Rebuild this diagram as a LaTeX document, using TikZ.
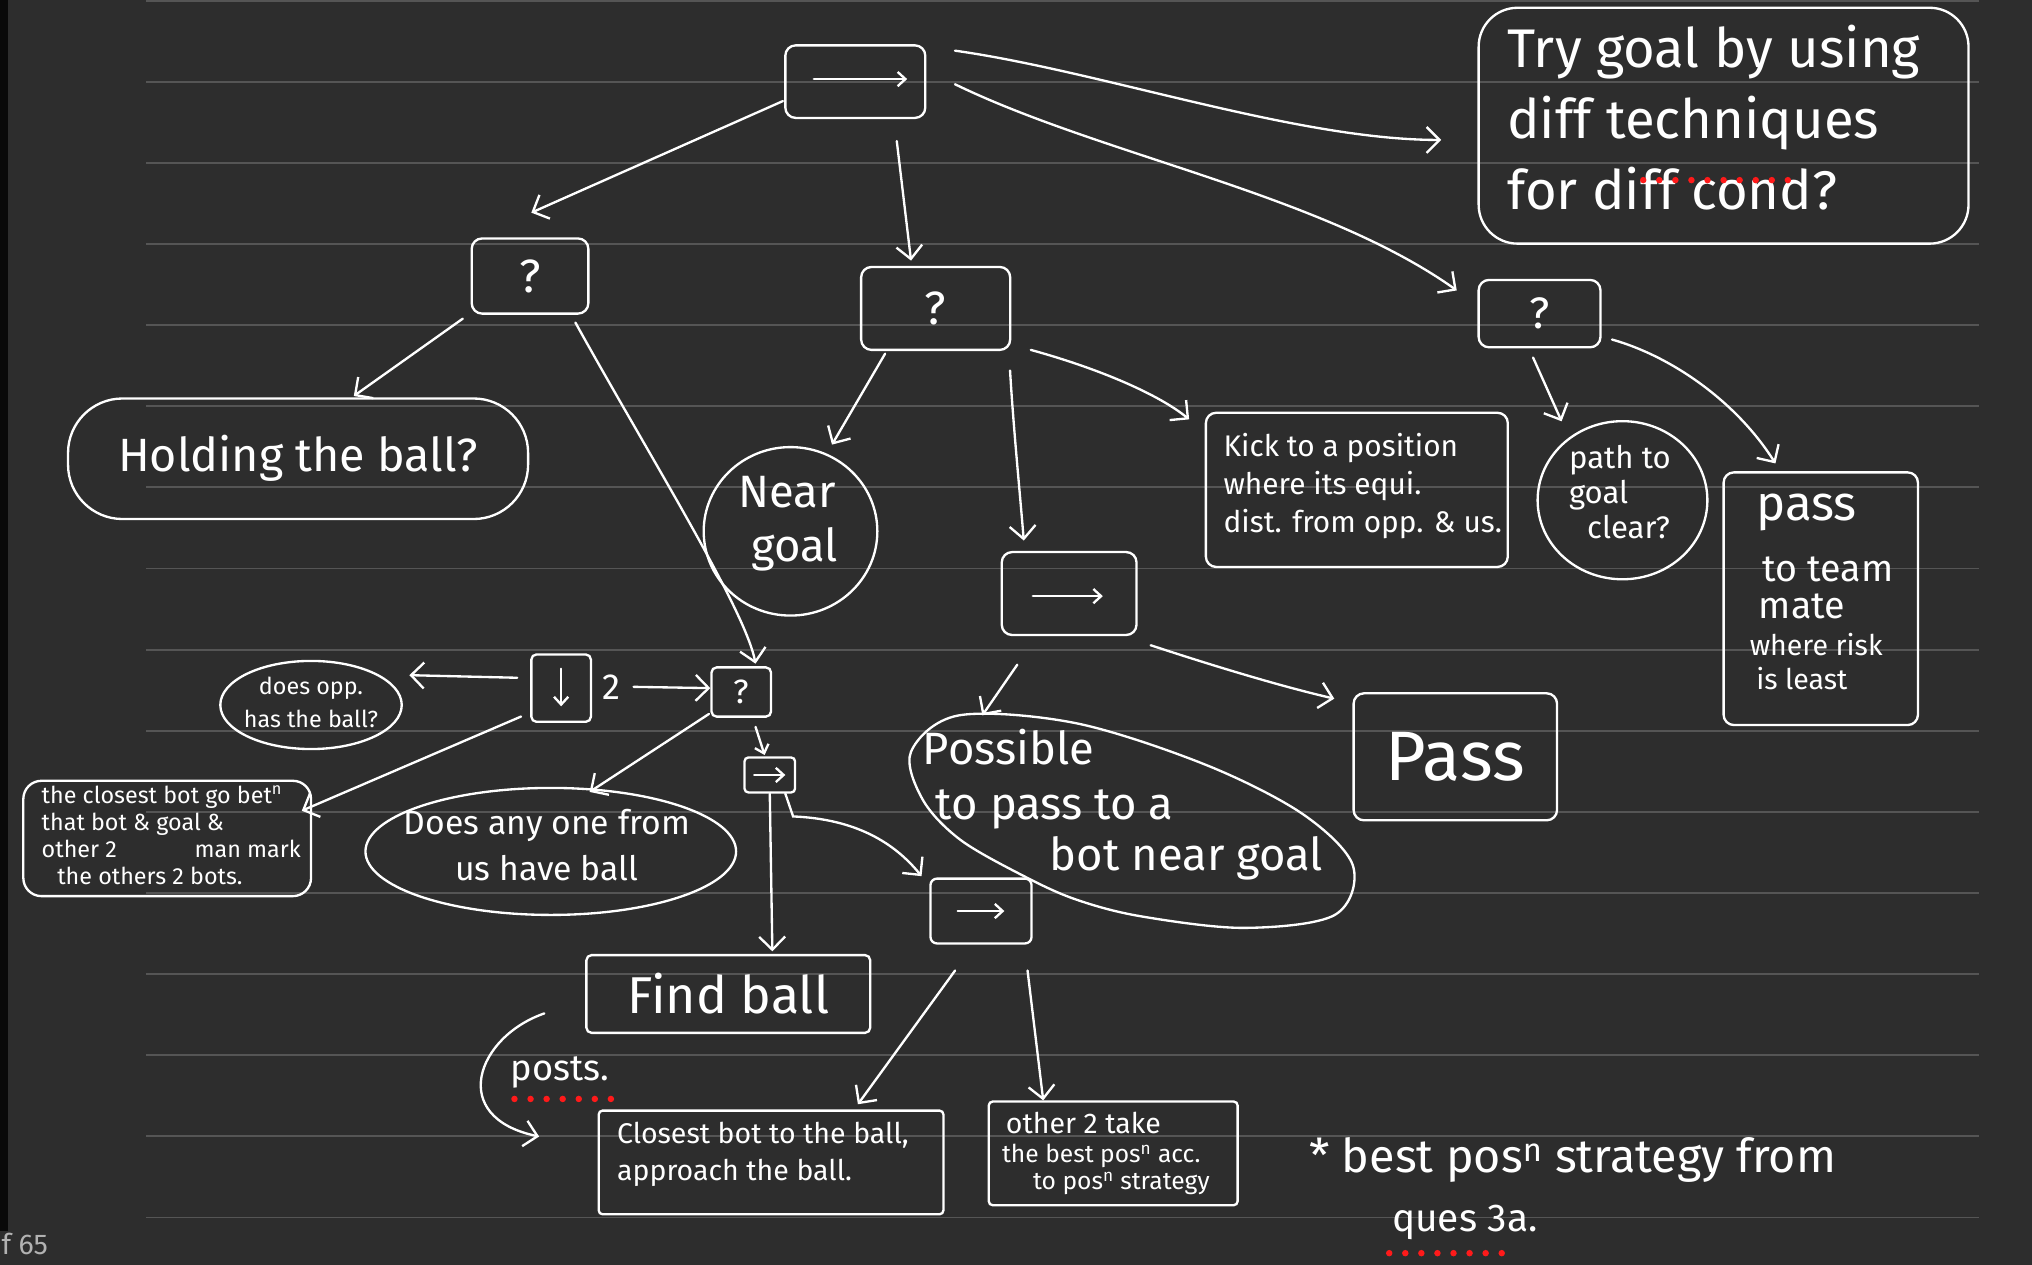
\documentclass[tikz,border=0pt]{standalone}
\usepackage{fontspec}
\setmainfont{Fira Sans}
\usetikzlibrary{arrows.meta,shapes.geometric,calc}
\definecolor{bg}{HTML}{2D2D2D}
\definecolor{rulec}{HTML}{555555}
\definecolor{dotred}{HTML}{FF1A1A}
\newcommand{\fsz}[1]{\fontsize{#1}{#1}\selectfont}
\begin{document}
\begin{tikzpicture}[x=1pt,y=-1pt,
  every node/.style={text=white, inner sep=0pt},
  ln/.style={draw=white, line width=1.8pt},
  box/.style={ln, rectangle, rounded corners=8pt},
  cond/.style={ln, ellipse},
  arr/.style={draw=white, line width=1.8pt, line cap=round, -{Straight Barb[length=10pt,width=20pt]}},
  small arr/.style={draw=white, line width=1.8pt, line cap=round, -{Straight Barb[length=6pt,width=11pt]}},
  reddots/.style={draw=dotred, line width=5pt, line cap=round, dash pattern=on 0pt off 12.4pt},
]
\useasboundingbox (0,0) rectangle (1568,976);
\clip (0,0) rectangle (1568,976);
\fill[bg] (0,0) rectangle (1568,976);
\fill[black!80!bg] (0,0) rectangle (6,950);
\foreach \k in {0,...,15} \draw[rulec, line width=1.4pt] (113,{62.6*\k+0.5}) -- (1527,{62.6*\k+0.5});
\node[anchor=base west, text=gray!60, font=\fsz{22}] (pg) at (1,968) {f 65};

% top level
\node[box, minimum width=108pt, minimum height=56pt] (root) at (660,63) {};
\draw[small arr] ($(root.center)+(-32,-2)$) -- ($(root.center)+(40,-2)$);
\node[box, minimum width=90pt, minimum height=58pt, font=\fsz{36}] (lq) at (409,213) {?};
\node[box, minimum width=115pt, minimum height=64pt, font=\fsz{36}] (mq) at (722,238) {?};
\node[box, minimum width=94pt, minimum height=52pt, font=\fsz{34}] (rq) at (1188,242) {?};
\node[box, rounded corners=30pt, minimum width=378pt, minimum height=182pt] (try) at (1330,97) {};
\node[align=left, font=\fontsize{42}{55}\selectfont, anchor=north west] (trytext) at (1163,19) {Try goal by using\\diff techniques\\for diff cond?};
\draw[reddots] (1268,139) -- (1382,139);

% second level
\node[box, rounded corners=42pt, minimum width=355pt, minimum height=93pt, font=\fsz{36}] (hold) at (230,354) {Holding the ball?};
\node[cond, minimum width=134pt, minimum height=130pt] (near) at (610,410) {};
\node[align=left, font=\fontsize{35}{42}\selectfont] (neartext) at (608,404) {Near\\\hspace*{10pt}goal};
\node[box, minimum width=233pt, minimum height=119pt] (kick) at (1047,378) {};
\node[anchor=west, align=left, font=\fontsize{23}{29}\selectfont] (kicktext) at (944,375) {Kick to a position\\where its equi.\\dist. from opp. \& us.};
\node[cond, minimum width=131pt, minimum height=122pt] (path) at (1252,386) {};
\node[align=left, font=\fontsize{24}{27}\selectfont] (pathtext) at (1250,380) {path to\\goal\\\hspace*{14pt}clear?};
\node[box, minimum width=150pt, minimum height=195pt] (passm) at (1405,462) {};
\node[anchor=base west, font=\fsz{38}] (pm1) at (1355,402) {pass};
\node[anchor=base west, font=\fsz{29}] (pm2) at (1360,449) {to team};
\node[anchor=base west, font=\fsz{29}] (pm3) at (1357,477) {mate};
\node[anchor=base west, font=\fsz{22}] (pm4) at (1350,506) {where risk};
\node[anchor=base west, font=\fsz{22}] (pm5) at (1355,532) {is least};

\node[box, minimum width=104pt, minimum height=64pt] (mseq) at (825,458) {};
\draw[small arr] ($(mseq.center)+(-28,2)$) -- ($(mseq.center)+(26,2)$);
\draw[ln] plot[smooth cycle, tension=0.55] coordinates {(703,580) (712,617) (741,648) (790,676) (830,694) (880,707) (960,716) (1030,706) (1044,668) (1005,628) (930,590) (830,558) (740,552)};
\coordinate (blobtop) at (758,552);
\node[anchor=base west, font=\fsz{35}] (pos1) at (712,590) {Possible};
\node[anchor=base west, font=\fsz{35}] (pos2) at (722,632) {to pass to a};
\node[anchor=base west, font=\fsz{35}] (pos3) at (810,672) {bot near goal};
\node[box, minimum width=157pt, minimum height=98pt, font=\fsz{54}] (pass) at (1123,584) {Pass};

% left subtree
\node[box, rounded corners=4pt, minimum width=46pt, minimum height=52pt] (par) at (433,531) {};
\draw[small arr] ($(par.center)+(0,-15)$) -- ($(par.center)+(0,14)$);
\node[font=\fsz{28}] (two) at (472,530) {2};
\node[box, rounded corners=4pt, minimum width=46pt, minimum height=38pt, font=\fsz{26}] (sq) at (572,534) {?};
\node[cond, minimum width=140pt, minimum height=68pt] (opp) at (240,544) {};
\node[align=center, font=\fontsize{18}{25}\selectfont] (opptext) at (240,542) {does opp.\\has the ball?};
\node[box, rounded corners=14pt, minimum width=222pt, minimum height=89pt] (cl) at (129,647) {};
\node[anchor=north west, align=left, font=\fontsize{18}{21}\selectfont] (cltext) at (32,606) {the closest bot go bet\textsuperscript{n}\\that bot \& goal \&\\other 2\hspace{60pt}man mark\\\hspace*{12pt}the others 2 bots.};
\node[cond, minimum width=286pt, minimum height=98pt] (any) at (425,657) {};
\node[align=center, font=\fontsize{26}{36}\selectfont] (anytext) at (422,652) {Does any one from\\us have ball};
\node[box, rounded corners=3pt, minimum width=39pt, minimum height=27pt] (ss) at (594,598) {};
\draw[small arr] ($(ss.center)+(-12,0)$) -- ($(ss.center)+(12,0)$);
\node[box, rounded corners=5pt, minimum width=78pt, minimum height=50pt] (ls) at (757,703) {};
\draw[small arr] ($(ls.center)+(-18,0)$) -- ($(ls.center)+(18,0)$);
\node[box, rounded corners=4pt, minimum width=219pt, minimum height=60pt, font=\fsz{40}] (find) at (562,767) {Find ball};
\node[box, rounded corners=3pt, minimum width=266pt, minimum height=80pt] (cb) at (595,897) {};
\node[anchor=north west, align=left, font=\fontsize{22}{28}\selectfont] (cbtext) at (476,866) {Closest bot to the ball,\\approach the ball.};
\node[box, rounded corners=3pt, minimum width=192pt, minimum height=80pt] (ot) at (859,890) {};
\node[anchor=base west, font=\fsz{22}] (ot1) at (776,875) {other 2 take};
\node[anchor=base west, font=\fsz{19}] (ot2) at (773,897) {the best pos\textsuperscript{n} acc.};
\node[anchor=base west, font=\fsz{19}] (ot3) at (797,918) {to pos\textsuperscript{n} strategy};

\node[anchor=base west, font=\fsz{28}] (posts) at (394,834) {posts.};
\draw[reddots] (397,848) -- (472,848);
\coordinate (pa) at (420,782);
\coordinate (pb) at (416,877);
\draw[arr] (pa) .. controls (368,800) and (345,862) .. (pb);

\node[anchor=base west, font=\fsz{36}] (note1) at (1010,905) {* best pos\textsuperscript{n} strategy from};
\node[anchor=base west, font=\fsz{30}] (note2) at (1074,950) {ques 3a.};
\draw[reddots] (1072,967) -- (1162,967);

% connectors
\draw[arr] ($(root.west)+(-1,15)$) -- ($(lq.north)+(1,-19)$);
\draw[arr] ($(root.south)+(32,17)$) -- ($(mq.north)+(-19,-4)$);
\draw[arr] ($(root.north east)+(22,5)$) .. controls (850,55) and (1000,108) .. ($(try.west)+(-28,11)$);
\draw[arr] ($(root.east)+(22,2)$) .. controls (850,120) and (1020,150) .. ($(rq.north west)+(-16,9)$);
\draw[arr] ($(lq.south west)+(-6,3)$) -- ($(hold.north)+(43,-1)$);
\draw[arr] ($(lq.south)+(35,6)$) .. controls (500,350) and (575,470) .. ($(sq.north)+(11,-2)$);
\draw[arr] ($(mq.south)+(-39,2)$) -- ($(near.north)+(32,-1)$);
\draw[arr] ($(mq.south east)+(-1,15)$) .. controls (782,330) and (787,380) .. ($(mseq.north)+(-35,-8)$);
\draw[arr] ($(mq.east)+(15,32)$) .. controls (850,285) and (895,305) .. ($(kick.north west)+(-12,6)$);
\draw[arr] ($(rq.south)+(-5,7)$) -- ($(path.north)+(-47,1)$);
\draw[arr] ($(rq.east)+(8,20)$) .. controls (1290,275) and (1340,310) .. ($(passm.north)+(-35,-6)$);
\draw[arr] ($(mseq.south)+(-40,22)$) -- (blobtop);
\draw[arr] ($(mseq.south east)+(10,7)$) .. controls (940,515) and (990,530) .. ($(pass.north west)+(-14,5)$);
\draw[arr] ($(par.west)+(-10,-8)$) -- ($(opp.east)+(5,-23)$);
\draw[arr] ($(par.east)+(32,-1)$) -- ($(sq.west)+(0,-3)$);
\draw[arr] ($(par.south west)+(-7,-5)$) -- ($(cl.north east)+(-8,24)$);
\draw[arr] ($(sq.south west)+(-1,-3)$) -- ($(any.north)+(30,4)$);
\draw[small arr] ($(sq.south)+(11,7)$) -- ($(ss.north)+(-4,-1)$);
\draw[arr] (ss.south) -- ($(find.north)+(34,-2)$);
\draw[arr] ($(ss.south)+(12,0)$) -- (612,630) .. controls (660,632) and (690,650) .. ($(ls.north west)+(-6,-1)$);
\draw[arr] ($(ls.south)+(-20,20)$) -- ($(cb.north)+(67,-4)$);
\draw[arr] ($(ls.south east)+(-4,20)$) -- ($(ot.north)+(-54,0)$);
\end{tikzpicture}
\end{document}
